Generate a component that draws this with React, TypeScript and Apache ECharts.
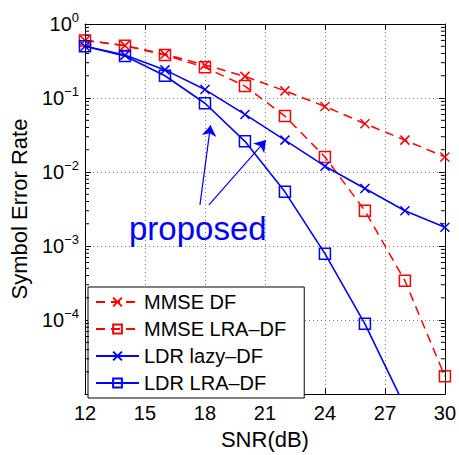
import React, { useEffect, useRef } from "react";
import * as echarts from "echarts";

const snr = [12, 14, 16, 18, 20, 22, 24, 26, 28, 30];
const mmseDF = [0.6, 0.51, 0.39, 0.28, 0.196, 0.125, 0.077, 0.045, 0.027, 0.016];
const mmseLRA = [0.6, 0.51, 0.38, 0.26, 0.145, 0.057, 0.016, 0.003, 3.4e-4, 1.74e-5];
const ldrLazy = [0.5, 0.38, 0.24, 0.13, 0.06, 0.027, 0.012, 0.006, 0.003, 0.0018];
const ldrLRA = [0.5, 0.37, 0.2, 0.085, 0.026, 0.0054, 7.9e-4, 8.9e-5, 6.8e-6];
const seriesNames = ["MMSE DF", "MMSE LRA–DF", "LDR lazy–DF", "LDR LRA–DF"];
const xTicks = { min: 12, max: 30, interval: 3 };
const yRange = { min: 1e-5, max: 1 };
const minorMantissas = [2, 3, 4, 5, 6, 7, 8, 9];
const minorDecades = [-5, -4, -3, -2, -1];
const arrows = [
  { from: [17.75, 0.0036], to: [18.28, 0.043] },
  { from: [18.2, 0.0036], to: [21.05, 0.027] },
];
const proposedAt = [14.2, 1.03e-3];

const FONT = "'Liberation Sans', Arial, Helvetica, sans-serif";
const RED = "#ff0000";
const BLUE = "#0000ff";
const CROSS = "path://M0,0L10,10M10,0L0,10";

const pairs = (ys: number[]) => ys.map((y, i) => [snr[i], y]);

export default function App() {
  const ref = useRef<HTMLDivElement>(null);
  useEffect(() => {
    if (!ref.current) return;
    const chart = echarts.init(ref.current, null, { renderer: "svg" });
    const minorData: number[][] = [];
    minorDecades.forEach((d) =>
      minorMantissas.forEach((m) => minorData.push([xTicks.min, m * Math.pow(10, d)]))
    );
    const axisLine = { show: true, lineStyle: { color: "#000", width: 1 } };
    const option: any = {
      animation: false,
      backgroundColor: "#fff",
      textStyle: { fontFamily: FONT },
      grid: { left: 83, right: 14, top: 24, bottom: 50, containLabel: false },
      xAxis: [
        {
          type: "value",
          ...xTicks,
          position: "bottom",
          axisLine,
          axisTick: { show: true, inside: true, length: 6, lineStyle: { color: "#000" } },
          axisLabel: { fontSize: 20, color: "#000", margin: 9, fontFamily: FONT },
          splitLine: { show: true, lineStyle: { type: [1, 3], color: "#777", width: 1 } },
          name: "SNR(dB)",
          nameLocation: "middle",
          nameGap: 29,
          nameTextStyle: { fontSize: 22, color: "#000", fontFamily: FONT },
        },
        {
          type: "value",
          ...xTicks,
          position: "top",
          axisLine,
          axisTick: { show: true, inside: true, length: 6, lineStyle: { color: "#000" } },
          axisLabel: { show: false },
          splitLine: { show: false },
        },
      ],
      yAxis: [
        {
          type: "log",
          logBase: 10,
          ...yRange,
          splitNumber: 5,
          position: "left",
          axisLine,
          axisTick: { show: true, inside: true, length: 6, lineStyle: { color: "#000" } },
          axisLabel: {
            margin: 6,
            color: "#000",
            formatter: (v: number) => {
              const e = Math.round(Math.log10(v));
              if (e <= -5) return "";
              const s = e < 0 ? "−" + String(-e) : String(e);
              return "{b|10}{s|" + s + "}";
            },
            rich: {
              b: { fontSize: 20, color: "#000", fontFamily: FONT },
              s: { fontSize: 13, color: "#000", fontFamily: FONT, padding: [0, 0, 13, 0] },
            },
          },
          splitLine: { show: true, lineStyle: { type: [1, 3], color: "#777", width: 1 } },
          name: "Symbol Error Rate",
          nameLocation: "middle",
          nameGap: 55,
          nameTextStyle: { fontSize: 22, color: "#000", fontFamily: FONT },
        },
        {
          type: "log",
          logBase: 10,
          ...yRange,
          splitNumber: 5,
          position: "right",
          axisLine,
          axisTick: { show: true, inside: true, length: 6, lineStyle: { color: "#000" } },
          axisLabel: { show: false },
          splitLine: { show: false },
        },
      ],
      legend: {
        data: seriesNames,
        orient: "vertical",
        left: 88,
        top: 287,
        itemWidth: 43,
        itemHeight: 11,
        itemGap: 7,
        padding: [5, 18, 5, 7],
        backgroundColor: "#fff",
        borderColor: "#000",
        borderWidth: 1,
        borderRadius: 0,
        textStyle: { fontSize: 20, color: "#000", fontFamily: FONT },
        selectedMode: false,
      },
      series: [
        {
          name: seriesNames[0],
          type: "line",
          data: pairs(mmseDF),
          symbol: CROSS,
          symbolSize: 9,
          lineStyle: { color: RED, width: 1.5, type: [9, 6] },
          itemStyle: { color: RED, borderColor: RED, borderWidth: 1.5 },
          z: 3,
        },
        {
          name: seriesNames[1],
          type: "line",
          data: pairs(mmseLRA),
          symbol: "rect",
          symbolSize: 11,
          lineStyle: { color: RED, width: 1.5, type: [9, 6] },
          itemStyle: { color: "rgba(0,0,0,0)", borderColor: RED, borderWidth: 1.5 },
          z: 3,
        },
        {
          name: seriesNames[2],
          type: "line",
          data: pairs(ldrLazy),
          symbol: CROSS,
          symbolSize: 9,
          lineStyle: { color: BLUE, width: 1.6, type: "solid" },
          itemStyle: { color: BLUE, borderColor: BLUE, borderWidth: 1.5 },
          z: 4,
        },
        {
          name: seriesNames[3],
          type: "line",
          data: pairs(ldrLRA),
          symbol: "rect",
          symbolSize: 11,
          lineStyle: { color: BLUE, width: 1.6, type: "solid" },
          itemStyle: { color: "rgba(0,0,0,0)", borderColor: BLUE, borderWidth: 1.5 },
          z: 4,
          markLine: {
            silent: true,
            animation: false,
            symbol: ["none", "arrow"],
            symbolSize: 11,
            label: { show: false },
            lineStyle: { color: BLUE, width: 1.2, type: "solid" },
            emphasis: { disabled: true },
            data: arrows.map((a) => [{ coord: a.from }, { coord: a.to }]),
          },
        },
        {
          name: "minorTicks",
          type: "custom",
          data: minorData,
          silent: true,
          clip: false,
          z: 5,
          renderItem: (params: any, api: any) => {
            const y = api.value(1);
            const p = api.coord([xTicks.min, y]);
            const q = api.coord([xTicks.max, y]);
            return {
              type: "group",
              children: [
                {
                  type: "line",
                  shape: { x1: p[0], y1: p[1], x2: p[0] + 4, y2: p[1] },
                  style: { stroke: "#000", lineWidth: 1 },
                },
                {
                  type: "line",
                  shape: { x1: q[0] - 4, y1: q[1], x2: q[0], y2: q[1] },
                  style: { stroke: "#000", lineWidth: 1 },
                },
              ],
            };
          },
        },
      ],
    };
    chart.setOption(option);
    const pt = chart.convertToPixel({ xAxisIndex: 0, yAxisIndex: 0 }, proposedAt) as number[];
    chart.setOption({
      graphic: [
        {
          type: "text",
          x: pt[0],
          y: pt[1],
          z: 10,
          style: {
            text: "proposed",
            fill: BLUE,
            fontSize: 33,
            fontFamily: FONT,
            align: "left",
            verticalAlign: "bottom",
          },
        },
      ],
    });
    return () => chart.dispose();
  }, []);
  return (
    <div
      ref={ref}
      style={{ position: "absolute", left: 0, top: 0, width: 459, height: 455 }}
    />
  );
}
